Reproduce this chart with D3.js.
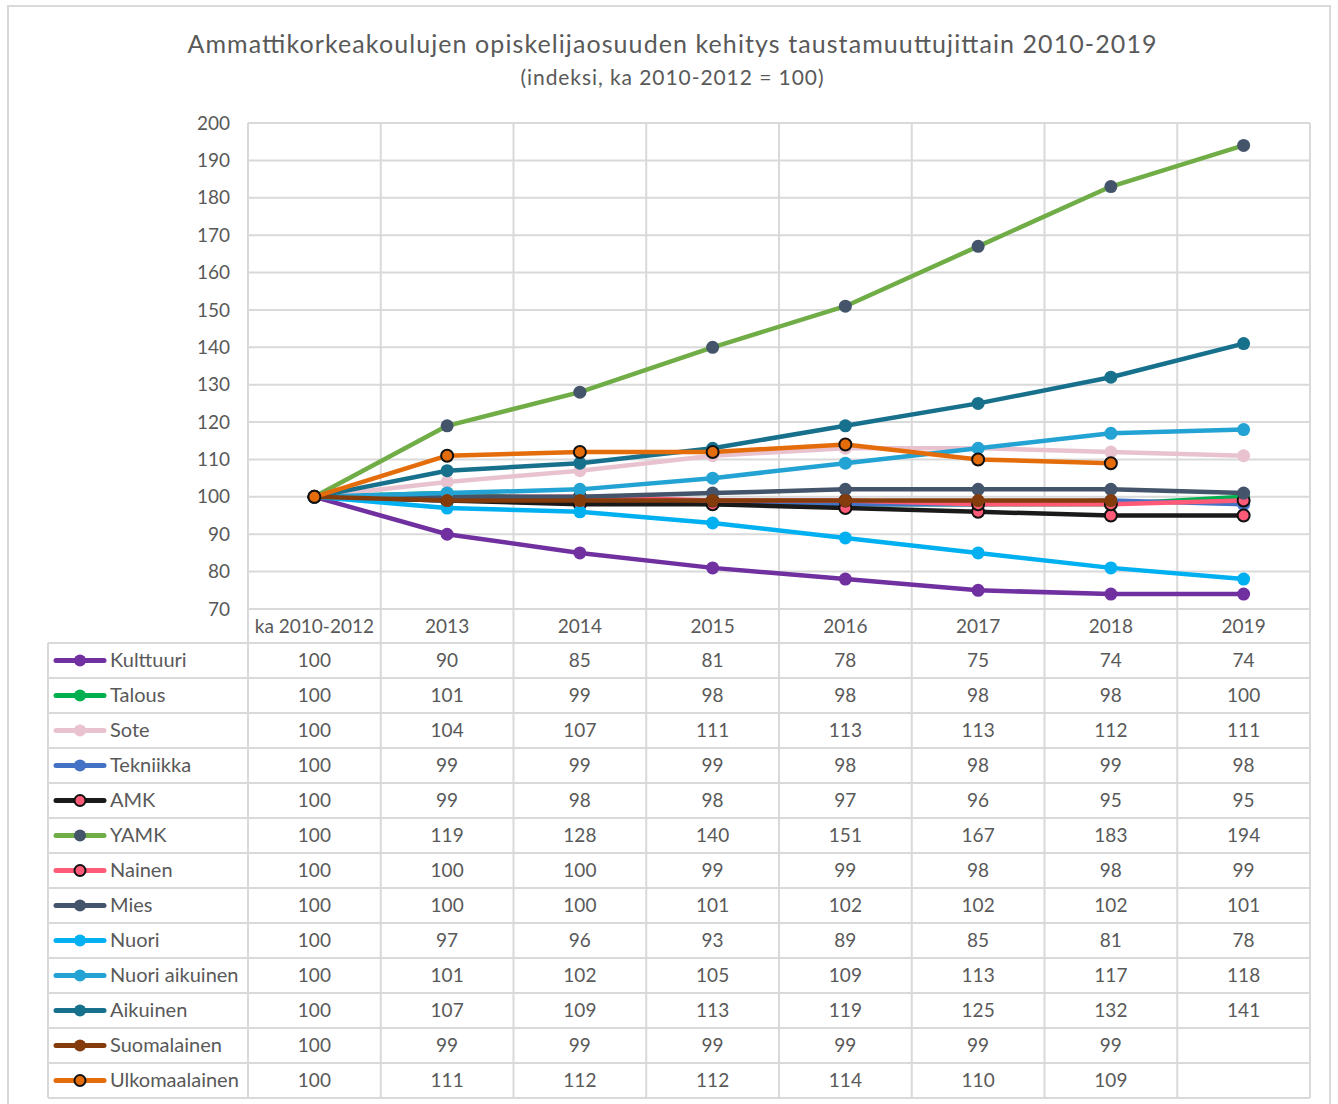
<!DOCTYPE html>
<html><head><meta charset="utf-8">
<script src="https://cdn.jsdelivr.net/npm/d3@7"></script>
<style>
html,body{margin:0;padding:0;background:#fff;}
svg{display:block;font-family:Lato,"Open Sans",sans-serif;}
</style></head>
<body>
<svg id="c" width="1338" height="1104"></svg>
<script>
const categories = ["ka 2010-2012","2013","2014","2015","2016","2017","2018","2019"];
const yTicks = [70,80,90,100,110,120,130,140,150,160,170,180,190,200];
const seriesNames = ["Kulttuuri","Talous","Sote","Tekniikka","AMK","YAMK","Nainen","Mies","Nuori","Nuori aikuinen","Aikuinen","Suomalainen","Ulkomaalainen"];
const kulttuuri     = [100,90,85,81,78,75,74,74];
const talous        = [100,101,99,98,98,98,98,100];
const sote          = [100,104,107,111,113,113,112,111];
const tekniikka     = [100,99,99,99,98,98,99,98];
const amk           = [100,99,98,98,97,96,95,95];
const yamk          = [100,119,128,140,151,167,183,194];
const nainen        = [100,100,100,99,99,98,98,99];
const mies          = [100,100,100,101,102,102,102,101];
const nuori         = [100,97,96,93,89,85,81,78];
const nuoriAikuinen = [100,101,102,105,109,113,117,118];
const aikuinen      = [100,107,109,113,119,125,132,141];
const suomalainen   = [100,99,99,99,99,99,99,null];
const ulkomaalainen = [100,111,112,112,114,110,109,null];
const seriesValues = [kulttuuri,talous,sote,tekniikka,amk,yamk,nainen,mies,nuori,nuoriAikuinen,aikuinen,suomalainen,ulkomaalainen];

const styles = [
  {line:"#7030A0", fill:"#7030A0", stroke:"none"},
  {line:"#00B050", fill:"#00B050", stroke:"none"},
  {line:"#E8C3CF", fill:"#E8C3CF", stroke:"none"},
  {line:"#4472C4", fill:"#4472C4", stroke:"none"},
  {line:"#1A1A1A", fill:"#FF5A78", stroke:"#111"},
  {line:"#70AD47", fill:"#44546A", stroke:"none"},
  {line:"#FF5A78", fill:"#FF5A78", stroke:"#111"},
  {line:"#44546A", fill:"#44546A", stroke:"none"},
  {line:"#00B0F0", fill:"#00B0F0", stroke:"none"},
  {line:"#23A3D3", fill:"#23A3D3", stroke:"none"},
  {line:"#17718D", fill:"#17718D", stroke:"none"},
  {line:"#843C0C", fill:"#843C0C", stroke:"none"},
  {line:"#E46C0A", fill:"#E46C0A", stroke:"#111"}
];

const svg = d3.select("#c");
const grid = "#D9D9D9", txt = "#595959";
const L = 248, R = 1310, T = 123, B = 609;
const rowH = 35, tableLeft = 48, hdrBottom = 643;

// outer frame
svg.append("rect").attr("x",8).attr("y",6).attr("width",1322).attr("height",1110)
  .attr("fill","none").attr("stroke",grid).attr("stroke-width",2);

// title
svg.append("text").attr("x",672).attr("y",53).attr("text-anchor","middle")
  .attr("font-size",25).attr("fill",txt)
  .attr("textLength",969).attr("lengthAdjust","spacing")
  .text("Ammattikorkeakoulujen opiskelijaosuuden kehitys taustamuuttujittain 2010-2019");
svg.append("text").attr("x",672).attr("y",85).attr("text-anchor","middle")
  .attr("font-size",21).attr("fill",txt)
  .attr("textLength",303).attr("lengthAdjust","spacing")
  .text("(indeksi, ka 2010-2012 = 100)");

const x = d3.scaleBand().domain(categories).range([L,R]);
const y = d3.scaleLinear().domain([70,200]).range([B,T]);

// horizontal gridlines
svg.append("g").selectAll("line").data(yTicks).join("line")
  .attr("x1",L).attr("x2",R).attr("y1",d=>y(d)).attr("y2",d=>y(d))
  .attr("stroke",grid).attr("stroke-width",2);

// vertical gridlines (through plot and table)
const vx = categories.map(c=>x(c)).concat([R]);
svg.append("g").selectAll("line").data(vx).join("line")
  .attr("x1",d=>d).attr("x2",d=>d).attr("y1",T).attr("y2",hdrBottom + rowH*seriesNames.length)
  .attr("stroke",grid).attr("stroke-width",2);

// y axis labels
const yAxis = d3.axisLeft(y).tickValues(yTicks).tickSize(0).tickPadding(18);
const ga = svg.append("g").attr("transform",`translate(${L},0)`).call(yAxis);
ga.select(".domain").remove();
ga.selectAll("text").attr("font-size",19).attr("fill",txt).attr("font-family","Lato,'Open Sans',sans-serif");

// category labels
svg.append("g").selectAll("text").data(categories).join("text")
  .attr("x",d=>x(d)+x.bandwidth()/2).attr("y",633).attr("text-anchor","middle")
  .attr("font-size",19).attr("fill",txt).text(d=>d);

// table rows
const tbl = svg.append("g");
for(let i=0;i<=seriesNames.length;i++){
  tbl.append("line").attr("x1",tableLeft).attr("x2",R)
    .attr("y1",hdrBottom+i*rowH).attr("y2",hdrBottom+i*rowH)
    .attr("stroke",grid).attr("stroke-width",2);
}
tbl.append("line").attr("x1",tableLeft).attr("x2",tableLeft)
  .attr("y1",hdrBottom).attr("y2",hdrBottom+rowH*seriesNames.length)
  .attr("stroke",grid).attr("stroke-width",2);

seriesNames.forEach((name,i)=>{
  const cy = hdrBottom + i*rowH + rowH/2;
  const s = styles[i];
  tbl.append("line").attr("x1",56).attr("x2",104).attr("y1",cy).attr("y2",cy)
    .attr("stroke",s.line).attr("stroke-width",5).attr("stroke-linecap","round");
  tbl.append("circle").attr("cx",80).attr("cy",cy).attr("r",s.stroke==="none"?6:5.5)
    .attr("fill",s.fill).attr("stroke",s.stroke==="none"?null:s.stroke).attr("stroke-width",2);
  tbl.append("text").attr("x",110).attr("y",cy+6).attr("font-size",20).attr("fill",txt).text(name);
  seriesValues[i].forEach((v,j)=>{
    if(v==null) return;
    tbl.append("text").attr("x",x(categories[j])+x.bandwidth()/2).attr("y",cy+6)
      .attr("text-anchor","middle").attr("font-size",19).attr("fill",txt).text(v);
  });
});

// lines
const line = d3.line().defined(d=>d.v!=null)
  .x(d=>x(d.c)+x.bandwidth()/2).y(d=>y(d.v));
const plot = svg.append("g");
seriesValues.forEach((vals,i)=>{
  const s = styles[i];
  const pts = vals.map((v,j)=>({c:categories[j],v}));
  const g = plot.append("g");
  g.append("path").datum(pts).attr("d",line).attr("fill","none")
    .attr("stroke",s.line).attr("stroke-width",4.5).attr("stroke-linejoin","round").attr("stroke-linecap","round");
  g.selectAll("circle").data(pts.filter(d=>d.v!=null)).join("circle")
    .attr("cx",d=>x(d.c)+x.bandwidth()/2).attr("cy",d=>y(d.v))
    .attr("r",s.stroke==="none"?6.5:6)
    .attr("fill",s.fill).attr("stroke",s.stroke==="none"?null:s.stroke).attr("stroke-width",2);
});
</script>
</body></html>
